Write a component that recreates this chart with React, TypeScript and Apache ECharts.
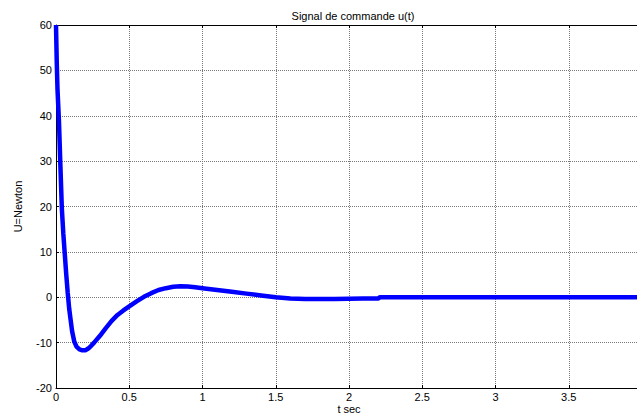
import React, { useEffect, useRef } from "react";
import * as echarts from "echarts";

const titleText = "Signal de commande u(t)";
const xName = "t sec";
const yName = "U=Newton";

const timeSec = [
  0, 0.005, 0.01, 0.02, 0.03, 0.04, 0.05, 0.06, 0.07, 0.08, 0.09, 0.1, 0.11, 0.125,
  0.14, 0.16, 0.18, 0.2, 0.22, 0.24, 0.26, 0.3, 0.34, 0.38, 0.42, 0.46, 0.5, 0.55,
  0.6, 0.65, 0.7, 0.75, 0.8, 0.85, 0.9, 0.95, 1.0, 1.1, 1.2, 1.3, 1.4, 1.5, 1.6,
  1.7, 1.8, 1.9, 2.0, 2.1, 2.2, 2.21, 2.5, 3.0, 3.5, 4.0,
];
const uNewton = [
  60, 52, 46, 39, 29, 19.5, 14, 9.5, 5, 1, -2.5, -5, -7.5, -9.8,
  -10.9, -11.5, -11.7, -11.7, -11.3, -10.7, -10, -8.5, -6.8, -5.2, -3.9, -2.9, -2.0, -0.9,
  0.1, 0.9, 1.6, 2.0, 2.3, 2.4, 2.35, 2.2, 2.0, 1.6, 1.2, 0.8, 0.4, 0.0, -0.3,
  -0.4, -0.4, -0.4, -0.35, -0.3, -0.3, 0, 0, 0, 0, 0,
];

const xTicks = { min: 0, max: 4, interval: 0.5 };
const yTicks = { min: -20, max: 60, interval: 10 };

export default function App() {
  const ref = useRef<HTMLDivElement>(null);
  useEffect(() => {
    if (!ref.current) return;
    const chart = echarts.init(ref.current, undefined, { renderer: "svg" });
    const font = "Liberation Sans, Arial, sans-serif";
    const grid = { type: "dotted" as const, color: "#777", width: 1 };
    const axisLine = { show: true, onZero: false, lineStyle: { color: "#000", width: 1 } };
    const tick = { show: true, inside: true, length: 3, lineStyle: { color: "#000" } };
    chart.setOption({
      animation: false,
      backgroundColor: "#fff",
      title: {
        text: titleText,
        left: 348,
        textAlign: "center",
        top: 5,
        textStyle: { fontFamily: font, fontSize: 11, fontWeight: "normal", color: "#000" },
      },
      grid: { left: 56, right: -5, top: 25, bottom: 27, containLabel: false, outerBoundsMode: "none" },
      xAxis: [
        {
          type: "value",
          ...xTicks,
          position: "bottom",
          name: xName,
          nameLocation: "middle",
          nameGap: 15,
          nameMoveOverlap: false,
          nameTextStyle: { fontFamily: font, fontSize: 11, color: "#000", verticalAlign: "top" },
          axisLine,
          axisTick: tick,
          axisLabel: {
            margin: 3,
            fontFamily: font,
            fontSize: 11,
            color: "#000",
            formatter: (v: number) => (v >= 4 ? "" : String(v)),
          },
          splitLine: { show: true, lineStyle: grid },
        },
        {
          type: "value",
          ...xTicks,
          position: "top",
          axisLine,
          axisTick: tick,
          axisLabel: { show: false },
          splitLine: { show: false },
        },
      ],
      yAxis: [
        {
          type: "value",
          ...yTicks,
          position: "left",
          name: yName,
          nameLocation: "middle",
          nameGap: 33,
          nameMoveOverlap: false,
          nameTextStyle: { fontFamily: font, fontSize: 11, color: "#000" },
          axisLine,
          axisTick: tick,
          axisLabel: { margin: 4, fontFamily: font, fontSize: 11, color: "#000" },
          splitLine: { show: true, lineStyle: grid },
        },
        {
          type: "value",
          ...yTicks,
          position: "right",
          axisLine,
          axisTick: tick,
          axisLabel: { show: false },
          splitLine: { show: false },
        },
      ],
      series: [
        {
          type: "line",
          xAxisIndex: 0,
          yAxisIndex: 0,
          data: timeSec.map((t, i) => [t, uNewton[i]]),
          showSymbol: false,
          lineStyle: { color: "#0000ff", width: 4.5 },
          itemStyle: { color: "#0000ff" },
          clip: true,
        },
      ],
    });
    return () => chart.dispose();
  }, []);
  return <div ref={ref} style={{ width: 637, height: 415, position: "absolute", left: 0, top: 0 }} />;
}
